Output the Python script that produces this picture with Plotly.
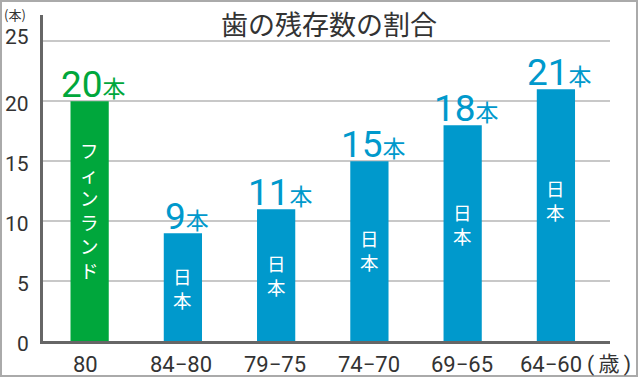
import plotly.graph_objects as go

categories = ["80", "84−80", "79−75", "74−70", "69−65", "64−60"]
values = [20, 9, 11, 15, 18, 21]
bar_labels = ["フィンランド", "日本", "日本", "日本", "日本", "日本"]
colors = ["#00a73c", "#0099cc", "#0099cc", "#0099cc", "#0099cc", "#0099cc"]
inner_label_y = [10.9, 4.4, 5.5, 7.6, 9.8, 11.75]
x_label_shift = [-4, -2, -1, 0, -1, -5]
y_ticks = [0, 5, 10, 15, 20, 25]
y_tick_labels = ["0", "5", "10", "15", "20", "25"]
title = "歯の残存数の割合"
y_unit = "(本)"
x_unit = "(\u2009歳\u2009)"

FONT = "Roboto, 'Noto Sans CJK JP', sans-serif"
CJK = "'Noto Sans CJK JP', sans-serif"

# plot area pixels: left 43, right 610, top 15, bottom 341
L, R, T, B = 43, 610, 15, 341
W, H = R - L, B - T

def px(xp):
    return (xp - L) / W

def py(yp):
    return (B - yp) / H

fig = go.Figure()
fig.add_trace(go.Bar(
    x=categories, y=values, marker=dict(color=colors, line=dict(width=0)),
    width=0.41, hoverinfo="skip",
))

annotations = []
for i, (v, col) in enumerate(zip(values, colors)):
    annotations.append(dict(
        x=i, y=v, xref="x", yref="y", yanchor="bottom", xanchor="center",
        text=f"<span style='font-size:37px'>{v}</span><span style='font-size:23px;font-family:{CJK}'>本</span>",
        showarrow=False, font=dict(family=FONT, size=37, color=col),
        yshift=-7, xshift=4,
    ))

# vertical labels inside the bars
for i, (lab, yc) in enumerate(zip(bar_labels, inner_label_y)):
    annotations.append(dict(
        x=i, y=yc, xref="x", yref="y", xanchor="center", yanchor="middle",
        text="<br>".join(lab), showarrow=False,
        font=dict(family=CJK, size=18.5, color="white"),
    ))

# category labels
for i, (cat, sh) in enumerate(zip(categories, x_label_shift)):
    annotations.append(dict(
        x=i, y=py(364), xref="x", yref="paper", xanchor="center", yanchor="middle",
        text=cat, showarrow=False, xshift=sh,
        font=dict(family=FONT, size=22, color="#333333"),
    ))

# y tick labels (the top one sits a little higher, as in the original)
for t, lab in zip(y_ticks, y_tick_labels):
    annotations.append(dict(
        x=px(31), y=t, xref="paper", yref="y", xanchor="right", yanchor="middle",
        text=lab, showarrow=False, yshift=4 if t == max(y_ticks) else -3,
        font=dict(family=FONT, size=21, color="#333333"),
    ))

annotations.append(dict(x=px(329), y=py(24), xref="paper", yref="paper", text=title,
                        showarrow=False, xanchor="center", yanchor="middle",
                        font=dict(family=CJK, size=27, color="#333333")))
annotations.append(dict(x=px(2), y=py(14), xref="paper", yref="paper", text=y_unit,
                        showarrow=False, xanchor="left", yanchor="middle",
                        font=dict(family=CJK, size=13, color="#333333")))
annotations.append(dict(x=px(585), y=py(364), xref="paper", yref="paper", text=x_unit,
                        showarrow=False, xanchor="left", yanchor="middle",
                        font=dict(family=FONT, size=21, color="#333333")))

shapes = [dict(type="rect", xref="paper", yref="paper",
               x0=px(1), x1=px(637), y0=py(376), y1=py(1),
               line=dict(color="#aaaaaa", width=2), fillcolor="rgba(0,0,0,0)", layer="above")]

fig.update_layout(
    width=640, height=378,
    margin=dict(l=L, r=640 - R, t=T, b=378 - B),
    paper_bgcolor="white", plot_bgcolor="white",
    showlegend=False, bargap=0.5,
    font=dict(family=FONT, color="#333333"),
    annotations=annotations, shapes=shapes,
    xaxis=dict(range=[-0.5, 5.58], showline=True, linecolor="#666666", linewidth=2.5,
               showgrid=False, ticks="", showticklabels=False, automargin=False,
               fixedrange=True),
    yaxis=dict(range=[0, 27.2], tickvals=y_ticks, showticklabels=False, showline=True,
               linecolor="#666666", linewidth=2.5, showgrid=True, gridcolor="#c8c8c8",
               gridwidth=2, zeroline=False, ticks="", automargin=False, fixedrange=True),
)

fig.write_html("out.html", config={"displayModeBar": False},
               post_script="document.body.style.margin='0';document.body.style.overflow='hidden';")
